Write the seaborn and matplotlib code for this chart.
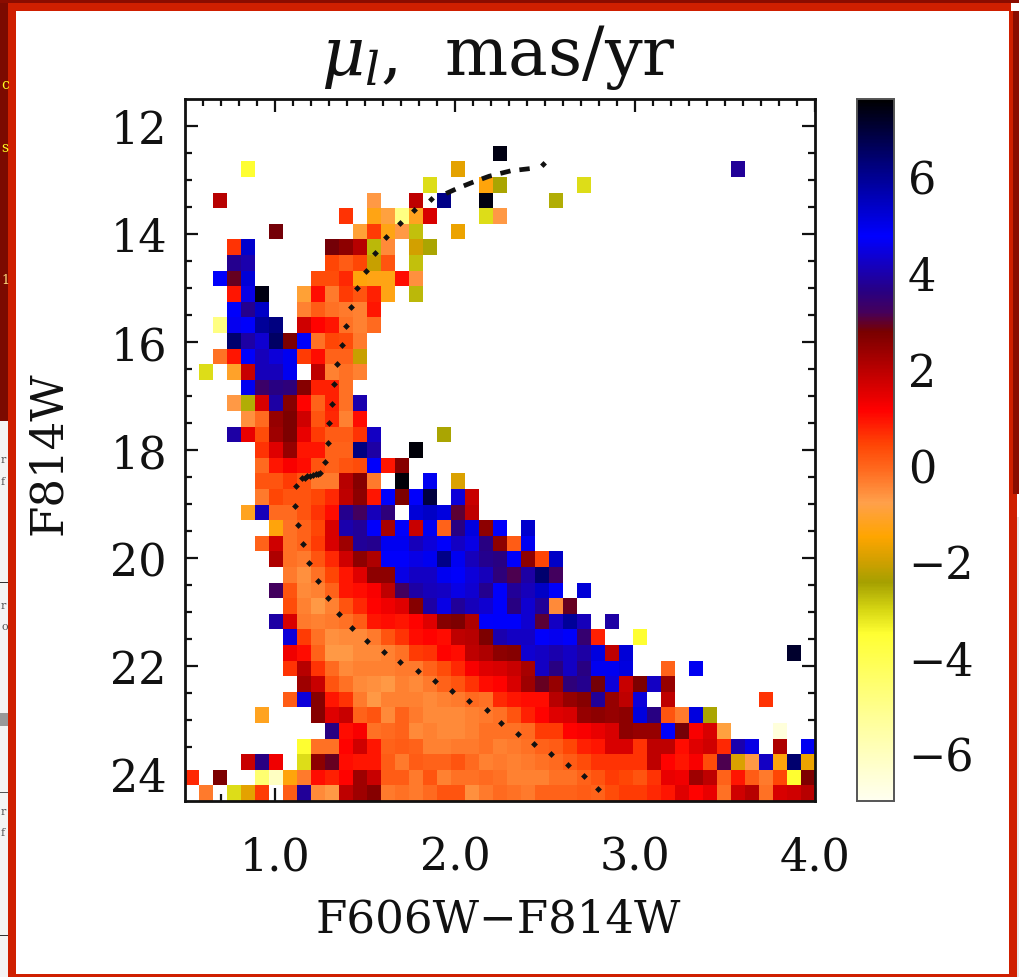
import numpy as np
import pandas as pd
import matplotlib
matplotlib.use("Agg")
import matplotlib.pyplot as plt
from matplotlib.colors import LinearSegmentedColormap
from matplotlib.patches import Rectangle
from matplotlib.transforms import ScaledTranslation
import seaborn as sns

# Grid of the Hess diagram
n_bins = 45
color_min, color_max = 0.5, 4.0
mag_min, mag_max = 11.5, 24.5
vmin, vmax = -6.9, 7.7

# Each row: first column of a run -> values of that run
row_03 = {22: [7.5]}
row_04 = {4: [-3.4], 19: [-1.7], 39: [3.9]}
row_05 = {17: [-3.0], 21: [-1.3, -2.4], 28: [-3.0]}
row_06 = {2: [2.1], 13: [-0.6], 16: [2.0], 18: [6.2], 21: [7.5], 26: [-2.5]}
row_07 = {11: [0.7], 13: [-1.2, -0.8, -4.8, -1.1, 1.7], 21: [-3.0, -0.6]}
row_08 = {6: [2.9], 12: [-0.9, 0.6, -1.2, -0.6, -2.7], 19: [-1.6]}
row_09 = {3: [0.7, 5.4], 10: [2.9, 2.6, 2.1, -2.6, -0.4], 16: [-1.9, -2.4]}
row_10 = {3: [3.8, 4.1], 10: [0.5, 0.2, 0.5, -2.0, 0.3], 16: [-2.7]}
row_11 = {2: [4.9, 3.0, 5.3], 9: [0.4, 0.4, 0.8, -1.3, -1.2, -1.2, 1.1, -0.5]}
row_12 = {3: [1.0, 4.6, 7.5], 8: [-0.9, 1.1, -0.2, 0.6, 0.3, 0.9, -1.2], 16: [-2.6]}
row_13 = {3: [4.9, 3.8, 5.5], 8: [-0.3, 0.2, -0.1, -0.2, -0.3, 1.0]}
row_14 = {2: [-4.8, 4.7, 4.9, 6.0, 6.3], 8: [1.8, 1.2, 1.0, -0.1, -0.3, 0.0]}
row_15 = {3: [6.5, 4.0, 4.4, 6.6, 2.8, 4.9, -0.1, 0.5, 0.4, -0.2]}
row_16 = {2: [-0.1, 1.0, 4.9, 4.2, 4.5, 5.0, 0.6, 1.1, 0.1, 0.1, -2.0]}
row_17 = {1: [-3.0], 3: [-1.0, 1.9, 4.2, 4.2, 5.0], 9: [2.0, -0.3, -0.1, -0.3]}
row_18 = {4: [5.0, 3.4, 3.7, 3.6, 2.7, 0.9, 0.9, -0.1]}
row_19 = {3: [-0.6, -2.5, 1.7, 4.0, 2.7, 1.2, 0.1, 0.9, -0.1, 4.1]}
row_20 = {4: [-0.5, 0.0, 2.5, 2.8, 1.8, 0.3, 0.8, -0.3, 1.1]}
row_21 = {3: [4.0, 1.5, 0.4, 2.4, 2.8, 1.5, 0.6, 0.2, 0.2, 0.7, 4.3], 18: [-2.4]}
row_22 = {5: [0.7, 1.6, 2.5, 1.0, 1.0, 0.1, 0.1, 6.3, 4.0], 16: [7.6]}
row_23 = {5: [0.0, 1.0, 1.3, 1.1, 0.3, 0.1, 0.3, 0.4, 4.8, 1.0, 2.7]}
row_24 = {5: [0.3, 0.3, 0.6, 0.3, -0.2, -0.2, 2.1, 2.7, -0.2], 15: [7.6], 17: [5.0], 19: [-1.8]}
row_25 = {5: [-0.2, 0.5, 0.3, 0.3, 0.5, 0.8, 2.0, 2.6, 1.0, 4.9, 2.8, 4.8, 7.0], 19: [4.5, 1.9]}
row_26 = {4: [-1.1, 4.2, 0.0, 0.0, 0.3, 0.7, 1.1, 3.8, 3.3, 4.2, 3.6], 16: [5.3, 5.5, 5.2, 3.1, 2.0]}
row_27 = {6: [-1.3, -0.1, 0.1, 0.5, 1.7, 4.1, 3.9, 4.8, 2.3, 4.9, 1.9, 5.0, 0.1, 3.7, 5.2, 2.6, 4.9], 24: [5.4]}
row_28 = {5: [0.1, 1.8, -0.1, 0.1, 0.6, 1.7, 2.4, 3.9, 3.8, 5.0, 5.0, 4.2, 4.5, 4.9, 4.3, 4.6, 3.7, 2.6, 0.2, 5.0]}
row_29 = {6: [2.2, -0.1, -0.2, 0.3, 0.8, 1.8, 2.6, 2.2, 4.8, 4.8, 4.6, 5.0, 6.2, 5.0, 4.2, 3.8, 3.7, 4.9, 2.6, 0.5, 5.5]}
row_30 = {7: [-0.2, -0.5, -0.1, 0.5, 1.0, 1.6, 2.6, 2.6, 4.6, 4.3, 4.3, 5.0, 4.9, 4.5, 4.2, 3.6, 3.2, 4.0, 6.5, 3.3]}
row_31 = {6: [3.3, 0.3, -0.4, -0.3, 0.1, 1.0, 1.1, 1.3, 2.0, 3.3, 4.0, 4.2, 4.3, 4.6, 4.4, 3.8, 4.9, 3.9, 4.2, 5.5, 4.9], 28: [5.3]}
row_32 = {7: [0.4, -0.3, -0.6, -0.3, 0.3, 0.8, 1.2, 1.4, 1.6, 2.7, 4.0, 4.6, 3.9, 4.2, 4.4, 4.9, 3.7, 4.4, 3.9, -0.4, 3.0]}
row_33 = {6: [4.0, 1.7, -0.2, -0.3, -0.2, -0.1, 0.2, 1.0, 1.1, 1.0, 1.2, 1.6, 2.7, 2.8, 2.2, 4.8, 4.9, 4.9, 4.4, 3.1, 4.3, 6.0, 4.2], 30: [4.0]}
row_34 = {7: [4.5, 0.6, -0.1, -0.5, -0.4, -0.4, -0.2, 0.3, 0.7, 1.1, 1.2, 1.1, 2.0, 2.1, 2.8, 4.1, 4.3, 4.3, 4.8, 4.7, 4.9, 3.5, 0.9], 32: [-3.4]}
row_35 = {7: [1.4, 1.1, 0.1, -0.6, -0.6, -0.4, -0.4, -0.3, -0.1, 0.6, 0.7, 1.2, 1.1, 2.0, 2.2, 2.6, 2.7, 4.4, 4.3, 4.1, 4.3, 4.0, 5.2, 2.0, 5.3], 43: [7.2]}
row_36 = {7: [0.7, 2.1, 0.7, 0.0, -0.4, -0.3, -0.3, -0.3, -0.2, -0.2, 0.1, 0.4, 0.8, 1.3, 1.6, 1.7, 1.9, 2.3, 4.3, 3.7, 4.3, 3.7, 5.0, 5.0, 5.2], 34: [0.1], 36: [5.0]}
row_37 = {8: [2.4, 1.9, 0.3, -0.1, -0.4, -0.5, -0.6, -0.3, -0.4, -0.2, 0.1, 0.3, 0.7, 1.1, 1.2, 1.7, 2.4, 3.0, 2.5, 3.6, 3.8, 2.9, 4.5, 1.9, 2.8, 4.3, 2.5]}
row_38 = {7: [0.2, 4.5, 2.7, 1.0, 0.7, -0.2, -0.6, -0.3, -0.3, -0.3, -0.4, -0.3, -0.2, 0.0, -0.1, 0.8, 1.0, 1.1, 1.1, 2.1, 2.5, 2.7, 3.9, 2.5, 2.0, 4.5], 34: [2.0], 41: [0.7]}
row_39 = {5: [-1.1], 9: [2.7, 1.6, 1.9, 0.1, 0.3, -0.4, 0.1, -0.2, -0.4, -0.4, -0.4, -0.3, -0.2, -0.1, 0.3, 0.9, 1.2, 1.6, 1.7, 2.5, 2.6, 2.5, 2.6, 5.2, 3.7, 0.3, -0.2, 5.2, -2.4]}
row_40 = {10: [3.7, 1.1, 1.3, -0.1, 0.0, 0.1, -0.4, -0.3, -0.4, -0.4, -0.3, -0.1, -0.1, -0.1, 0.0, 0.6, 0.6, 1.2, 1.3, 1.5, 1.7, 2.6, 2.5, 2.5, 4.9, 2.9, 1.3, 1.7, -0.8], 42: [-6.5]}
row_41 = {8: [-3.4, -0.1, -0.1, 1.2, 1.8, 1.0, 0.1, 0.2, 0.1, -0.3, -0.3, -0.2, -0.2, -0.1, -0.3, -0.2, -0.1, 0.1, 0.2, 0.5, 0.9, 1.0, 1.7, 1.7, 0.7, 2.0, 2.0, 1.1, 1.6, 1.8, 0.8, 4.1, 4.6], 42: [2.2], 44: [5.0]}
row_42 = {4: [1.9, 3.7, 1.4], 8: [-3.0, 2.6, 3.0, 1.1, 1.0, 1.0, 0.2, -0.2, 0.2, 0.1, 0.1, 0.3, 0.0, -0.3, -0.2, -0.3, -0.2, -0.1, 0.0, 0.2, 0.4, 0.7, 0.7, 0.7, 0.7, 2.0, 1.2, 1.0, 1.3, 0.4, 3.2, -1.8, -0.6, 4.3, -1.3, 6.5, -1.6]}
row_43 = {0: [0.8], 2: [2.8], 5: [-4.5, -6.0, -1.3, -0.2, 1.1, 0.9, 1.2, 2.4, 1.9, 0.2, 0.2, -0.2, 0.3, -0.3, -0.1, -0.1, 0.0, -0.1, -0.3, -0.3, -0.3, -0.1, -0.1, 0.1, 0.3, 0.6, 0.5, 0.3, 0.7, 1.5, 1.4, 2.4, 2.0, 0.1, 1.0, 0.2, -0.2, 0.5, -3.4, 2.8]}
row_44 = {1: [-0.2], 3: [-3.0, -1.7, 0.6], 7: [0.2, 3.9, -0.4, -0.6, 2.0, 2.4, 2.7, -0.2, -0.1, -0.2, 0.0, 0.3, 0.3, -0.5, -0.2, 0.0, -0.1, -0.2, 0.1, 0.1, 0.1, 0.2, 0.1, 0.4, 0.6, 0.6, 0.8, 1.0, 1.6, 1.2, 1.5, -0.1, 1.8, 2.1, -0.1, 1.7, 1.8, 2.1]}

rows = {3: row_03, 4: row_04, 5: row_05, 6: row_06, 7: row_07, 8: row_08, 9: row_09,
        10: row_10, 11: row_11, 12: row_12, 13: row_13, 14: row_14, 15: row_15, 16: row_16,
        17: row_17, 18: row_18, 19: row_19, 20: row_20, 21: row_21, 22: row_22, 23: row_23,
        24: row_24, 25: row_25, 26: row_26, 27: row_27, 28: row_28, 29: row_29, 30: row_30,
        31: row_31, 32: row_32, 33: row_33, 34: row_34, 35: row_35, 36: row_36, 37: row_37,
        38: row_38, 39: row_39, 40: row_40, 41: row_41, 42: row_42, 43: row_43, 44: row_44}

# Isochrone
track_color = [2.794, 2.717, 2.628, 2.533, 2.439, 2.35, 2.256, 2.178, 2.078, 1.983, 1.889, 1.794,
               1.694, 1.606, 1.511, 1.428, 1.356, 1.294, 1.239, 1.189, 1.156, 1.128, 1.111, 1.117,
               1.15, 1.165, 1.18, 1.195, 1.21, 1.225, 1.24, 1.25, 1.278, 1.294, 1.30, 1.317, 1.328, 1.344, 1.372,
               1.394, 1.422, 1.456, 1.506, 1.556, 1.617, 1.694, 1.772, 1.867, 2.489]
track_mag = [24.28, 24.04, 23.83, 23.63, 23.44, 23.26, 23.06, 22.81, 22.65, 22.46, 22.28, 22.09,
             21.93, 21.74, 21.54, 21.30, 21.04, 20.74, 20.43, 20.09, 19.74, 19.39, 19.04, 18.67,
             18.52, 18.51, 18.49, 18.48, 18.46, 18.45, 18.44, 18.43, 18.22, 17.87, 17.5, 17.15, 16.78, 16.41, 16.06,
             15.70, 15.35, 15.0, 14.69, 14.35, 14.06, 13.80, 13.56, 13.35, 12.70]
tip_color = [1.95, 2.01, 2.10, 2.19, 2.31, 2.44]
tip_mag = [13.25, 13.16, 13.04, 12.93, 12.83, 12.78]

# Colour bar stops
cmap_values = [-6.9, -5.15, -3.43, -2.95, -2.36, -1.9, -1.4, -0.7, 0.0, 0.5, 1.23, 2.87, 3.26, 3.7, 4.85, 6.5, 7.7]
cmap_colors = ["#fffff0", "#ffff96", "#ffff32", "#d8d814", "#a5a000", "#d2a000", "#ffa500", "#ffa04b",
               "#ff691e", "#ff4605", "#ff0000", "#780000", "#46005a", "#280082", "#0000ff", "#00006e", "#000000"]

x_ticks = [1.0, 2.0, 3.0, 4.0]
x_labels = ["1.0", "2.0", "3.0", "4.0"]
y_ticks = [12, 14, 16, 18, 20, 22, 24]
cbar_ticks = [-6, -4, -2, 0, 2, 4, 6]


def build_grid():
    grid = np.full((n_bins, n_bins), np.nan)
    for r, runs in rows.items():
        for start, values in runs.items():
            grid[r, start:start + len(values)] = values
    return pd.DataFrame(grid)


def x_pos(color):
    return (np.asarray(color, dtype=float) - color_min) / (color_max - color_min) * n_bins


def y_pos(mag):
    return (np.asarray(mag, dtype=float) - mag_min) / (mag_max - mag_min) * n_bins


def add_frame(fig):
    # the slide the plot was cut from
    W, H = 1019.0, 978.0
    boxes = [(0, 978 - 422, 8, 422, "#7c0a00"), (0, 0, 8, 978 - 422, "#f4f4f4"),
             (0, 974, 1019, 4, "#8a0c00"), (8, 966, 1003, 8, "#cf1f00"),
             (8, 0, 8, 966, "#cf1f00"), (1009, 0, 8, 966, "#cf1f00"),
             (8, 0, 1003, 3, "#cf1f00"), (1013, 483, 6, 483, "#8a0c00"),
             (1017, 0, 2, 460, "#e8e8e8"),
             (0, 978 - 727, 8, 13, "#999999"), (0, 978 - 584, 8, 1.5, "#333333"),
             (0, 978 - 794, 8, 1.5, "#555555"), (0, 978 - 937, 8, 1.5, "#333333")]
    for x, y, w, h, c in boxes:
        fig.add_artist(Rectangle((x / W, y / H), w / W, h / H, transform=fig.transFigure,
                                 facecolor=c, edgecolor="none", zorder=-5))
    # scraps of the slide text, small enough to stay inside the strip
    for txt, py, col, size in [("c", 85, "#ffff20", 10), ("s", 148, "#ffff20", 10), ("1", 280, "#ffe080", 9),
                               ("r", 460, "#555555", 8), ("f", 482, "#555555", 8), ("r", 606, "#555555", 8),
                               ("o", 627, "#555555", 8), ("r", 812, "#555555", 8), ("f", 833, "#555555", 8)]:
        fig.text(1 / W, 1 - py / H, txt, color=col, fontsize=size, va="center", zorder=-4)


def main():
    sns.set_theme(style="white")
    plt.rcParams["font.family"] = "DejaVu Serif"
    plt.rcParams["mathtext.fontset"] = "dejavuserif"

    W, H = 1019.0, 978.0
    fig = plt.figure(figsize=(10.19, 9.78), dpi=100, facecolor="white")
    add_frame(fig)
    ax = fig.add_axes([185 / W, 1 - 802 / H, 630 / W, 702 / H])
    cax = fig.add_axes([857 / W, 1 - 802 / H, 37 / W, 702 / H])

    cmap = LinearSegmentedColormap.from_list(
        "mu_l", [((v - vmin) / (vmax - vmin), c) for v, c in zip(cmap_values, cmap_colors)], N=512)

    sns.heatmap(build_grid(), ax=ax, cbar_ax=cax, cmap=cmap, vmin=vmin, vmax=vmax,
                xticklabels=False, yticklabels=False, linewidths=0, cbar_kws={"ticks": cbar_ticks})

    ax.plot(x_pos(track_color), y_pos(track_mag), ls="none", marker="D", ms=3.5, color="#111111", mew=0)
    ax.plot(x_pos(tip_color), y_pos(tip_mag), ls=(0, (2.2, 1.9)), lw=3.4, color="#111111")

    for side in ax.spines.values():
        side.set_visible(True)
        side.set_linewidth(2)
        side.set_color("#111111")

    ax.set_xticks(x_pos(x_ticks))
    ax.set_xticklabels(x_labels, fontsize=32, color="#111111")
    ax.set_xticks(x_pos(np.arange(0.6, 4.0, 0.1)), minor=True)
    ax.set_yticks(y_pos(y_ticks))
    ax.set_yticklabels([str(v) for v in y_ticks], fontsize=32, color="#111111", rotation=0)
    ax.set_yticks(y_pos(np.arange(12, 24.5, 0.5)), minor=True)
    ax.tick_params(axis="both", which="major", direction="in", length=9.4, width=1.6, color="#111111",
                   top=True, bottom=True, left=True, right=True)
    ax.tick_params(axis="both", which="minor", direction="in", length=4.7, width=1.6, color="#111111",
                   top=True, bottom=True, left=True, right=True)
    ax.tick_params(axis="x", which="major", pad=25)
    ax.tick_params(axis="y", which="major", pad=13)

    fig.text(498 / W, 1 - 920 / H, "F606W\u2212F814W", fontsize=32.5, ha="center", va="center", color="#111111")
    fig.text(48 / W, 1 - 453 / H, "F814W", fontsize=32.5, rotation=90, ha="center", va="center", color="#111111")
    fig.text(498 / W, 1 - 58 / H, r"$\mu_l$,  mas/yr", fontsize=48, ha="center", va="center", color="#111111")

    cax.tick_params(axis="y", length=0, labelsize=32, labelcolor="#111111", pad=10)
    lift = ScaledTranslation(0, 4 / 100, fig.dpi_scale_trans)
    for label in cax.get_yticklabels():
        label.set_transform(label.get_transform() + lift)
    for side in cax.spines.values():
        side.set_visible(True)
        side.set_linewidth(1.2)
        side.set_color("#555555")

    fig.savefig("out.png", dpi=100, facecolor=fig.get_facecolor())


if __name__ == "__main__":
    main()
